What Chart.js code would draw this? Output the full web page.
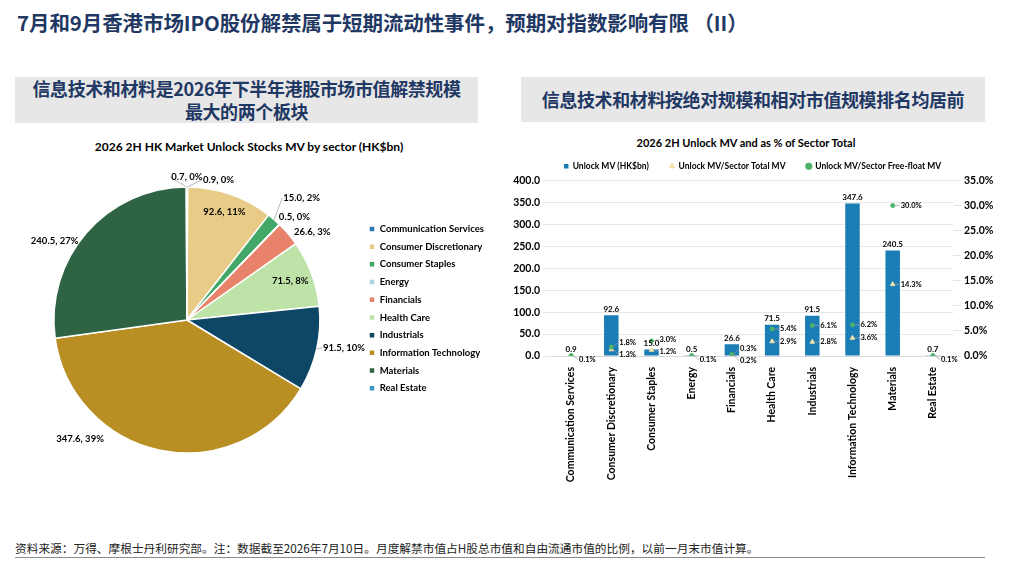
<!DOCTYPE html>
<html>
<head>
<meta charset="utf-8">
<script src="https://cdn.jsdelivr.net/npm/chart.js@4.4.1/dist/chart.umd.min.js"></script>
<style>
    html, body { margin: 0; padding: 0; background: #fff; }
    body { width: 1024px; height: 563px; position: relative; overflow: hidden; font-family: "Noto Sans CJK SC", sans-serif; }
    .title { position: absolute; left: 17px; top: 7px; font-size: 20.5px; font-weight: bold; color: #1F3864; white-space: nowrap; letter-spacing: -0.1px; }
    .hdr { position: absolute; background: #E7E7E7; color: #1F3864; font-weight: bold; font-size: 18px; line-height: 23px;
           display: flex; align-items: center; justify-content: center; text-align: center; letter-spacing: -0.4px; }
    .ctitle { position: absolute; font-family: Lato, sans-serif; font-weight: bold; font-size: 12px; color: #000; text-align: center; white-space: nowrap; }
    .foot { position: absolute; left: 15px; top: 539px; font-size: 11.7px; color: #222; white-space: nowrap; }
    .rule { position: absolute; left: 15px; top: 557px; width: 970px; height: 1px; background: #8c8c8c; }
    .box { position: absolute; }
</style>
</head>
<body>
<div class="title">7月和9月香港市场IPO股份解禁属于短期流动性事件，预期对指数影响有限 （II）</div>

<div class="hdr" style="left:15px;top:77px;width:463px;height:46px;">信息技术和材料是2026年下半年港股市场市值解禁规模<br>最大的两个板块</div>
<div class="hdr" style="left:521px;top:77px;width:464px;height:45px;">信息技术和材料按绝对规模和相对市值规模排名均居前</div>

<div class="ctitle" style="left:49px;top:139px;width:400px;">2026 2H HK Market Unlock Stocks MV by sector (HK$bn)</div>
<div class="ctitle" style="left:566px;top:136px;width:360px;font-size:11px;">2026 2H Unlock MV and as % of Sector Total</div>

<div class="box" style="left:13px;top:160px;width:481px;height:310px;"><canvas id="pie"></canvas></div>
<div class="box" style="left:505px;top:141px;width:495px;height:347px;"><canvas id="bars"></canvas></div>

<div class="foot">资料来源：万得、摩根士丹利研究部。注：数据截至2026年7月10日。月度解禁市值占H股总市值和自由流通市值的比例，以前一月末市值计算。</div>
<div class="rule"></div>

<script>
(function(){
    'use strict';

    // data
    var sectors = ['Communication Services', 'Consumer Discretionary', 'Consumer Staples', 'Energy', 'Financials',
                   'Health Care', 'Industrials', 'Information Technology', 'Materials', 'Real Estate'];
    var unlockMV = [0.9, 92.6, 15.0, 0.5, 26.6, 71.5, 91.5, 347.6, 240.5, 0.7];
    var pieShare = [0, 11, 2, 0, 3, 8, 10, 39, 27, 0];
    var pctSectorTotal = [0.0, 1.3, 1.2, 0.0, 0.2, 2.9, 2.8, 3.6, 14.3, 0.0];
    var pctFreeFloat = [0.1, 1.8, 3.0, 0.1, 0.3, 5.4, 6.1, 6.2, 30.0, 0.1];
    var mvTicks = [0, 50, 100, 150, 200, 250, 300, 350, 400];
    var pctTicks = [0, 5, 10, 15, 20, 25, 30, 35];

    var sectorColors = ['#2A7AB8', '#E8CB86', '#43A867', '#A8D5DF', '#E8826B',
                        '#BEE3A8', '#0E4766', '#B98E23', '#2E6444', '#3B9CC2'];
    // where each pie label sits: a = degrees clockwise from 12 o'clock (null = slice middle), d = x radius
    var pieLabelSpots = [
        {a: 12.7, d: 1.08, line: true},
        {a: null, d: 0.86, line: false},
        {a: 43.2, d: 1.26, line: true},
        {a: 46.2, d: 1.12, line: false},
        {a: 55,   d: 1.15, line: false},
        {a: null, d: 0.83, line: false},
        {a: 100,  d: 1.2,  line: true},
        {a: 222,  d: 1.2,  line: false},
        {a: 301,  d: 1.16, line: false},
        {a: 0,    d: 1.075, line: true}
    ];

    Chart.defaults.font.family = 'Lato, "Noto Sans", sans-serif';
    Chart.defaults.font.weight = 'bold';
    Chart.defaults.color = '#000';
    Chart.defaults.animation = false;

    var pieLabels = {
        id: 'pieLabels',
        afterDatasetsDraw: function(chart){
            var ctx = chart.ctx;
            var arcs = chart.getDatasetMeta(0).data;
            ctx.save();
            ctx.font = 'bold 9.5px Lato';
            ctx.fillStyle = '#000';
            ctx.strokeStyle = '#9a9a9a';
            ctx.lineWidth = 0.7;
            ctx.textAlign = 'center';
            ctx.textBaseline = 'middle';
            arcs.forEach(function(arc, i){
                var spot = pieLabelSpots[i];
                var r = arc.outerRadius;
                var mid = (arc.startAngle + arc.endAngle) / 2;
                var ang = spot.a === null ? mid : (spot.a - 90) * Math.PI / 180;
                var lx = arc.x + Math.cos(ang) * r * spot.d;
                var ly = arc.y + Math.sin(ang) * r * spot.d;
                var text = unlockMV[i].toFixed(1) + ', ' + pieShare[i] + '%';
                var w = ctx.measureText(text).width;
                if (spot.line) {
                    var ex = arc.x + Math.cos(mid) * r;
                    var ey = arc.y + Math.sin(mid) * r;
                    var tx = lx >= ex ? lx - w / 2 - 1 : lx + w / 2 + 1;
                    ctx.beginPath();
                    ctx.moveTo(ex, ey);
                    ctx.lineTo(tx, ly);
                    ctx.stroke();
                }
                ctx.fillText(text, lx, ly);
            });
            ctx.restore();
        }
    };

    new Chart(document.getElementById('pie'), {
        type: 'pie',
        data: {
            labels: sectors,
            datasets: [{
                data: unlockMV,
                backgroundColor: sectorColors,
                borderColor: '#fff',
                borderWidth: 1.5
            }]
        },
        options: {
            responsive: true,
            maintainAspectRatio: false,
            radius: 133,
            layout: { padding: { top: 56, bottom: 46 } },
            plugins: {
                legend: {
                    position: 'right',
                    align: 'start',
                    labels: { boxWidth: 6, boxHeight: 6, padding: 8.2, font: { size: 9.5, weight: 'bold' } }
                },
                tooltip: { enabled: false }
            }
        },
        plugins: [pieLabels]
    });

    var barLabels = {
        id: 'barLabels',
        afterDatasetsDraw: function(chart){
            var ctx = chart.ctx;
            var bars = chart.getDatasetMeta(0).data;
            var tri = chart.getDatasetMeta(1).data;
            var dots = chart.getDatasetMeta(2).data;
            ctx.save();
            ctx.fillStyle = '#000';
            ctx.strokeStyle = '#9a9a9a';
            ctx.lineWidth = 0.7;
            ctx.font = 'bold 8px Lato';
            ctx.textAlign = 'center';
            ctx.textBaseline = 'bottom';
            bars.forEach(function(bar, i){
                ctx.fillText(unlockMV[i].toFixed(1), bar.x, bar.y - 2);
            });
            ctx.font = 'bold 7.5px Lato';
            ctx.textAlign = 'left';
            ctx.textBaseline = 'middle';
            dots.forEach(function(dot, i){
                var t = tri[i];
                var yDot = dot.y, yTri = t.y;
                var hasTri = pctSectorTotal[i] > 0.05;
                if (hasTri && Math.abs(yDot - yTri) < 12) {
                    var midY = (yDot + yTri) / 2;
                    yDot = Math.min(yDot, midY - 6);
                    yTri = Math.max(yTri, midY + 6);
                }
                if (!hasTri) yDot += 4;
                ctx.beginPath();
                ctx.moveTo(dot.x + 2, dot.y);
                ctx.lineTo(dot.x + 7, yDot);
                ctx.stroke();
                ctx.fillText(pctFreeFloat[i].toFixed(1) + '%', dot.x + 8, yDot);
                if (hasTri) {
                    ctx.beginPath();
                    ctx.moveTo(t.x + 2, t.y);
                    ctx.lineTo(t.x + 7, yTri);
                    ctx.stroke();
                    ctx.fillText(pctSectorTotal[i].toFixed(1) + '%', t.x + 8, yTri);
                }
            });
            ctx.restore();
        }
    };

    new Chart(document.getElementById('bars'), {
        type: 'bar',
        data: {
            labels: sectors,
            datasets: [{
                label: 'Unlock MV (HK$bn)',
                data: unlockMV,
                backgroundColor: '#1B7DB6',
                pointStyle: 'rect',
                barPercentage: 0.36,
                categoryPercentage: 1,
                yAxisID: 'y',
                order: 3
            }, {
                type: 'line',
                label: 'Unlock MV/Sector Total MV',
                data: pctSectorTotal,
                showLine: false,
                pointStyle: 'triangle',
                pointRadius: 2.6,
                pointBackgroundColor: '#EFE2AE',
                pointBorderColor: '#EFE2AE',
                backgroundColor: '#EFE2AE',
                borderColor: '#EFE2AE',
                yAxisID: 'y2',
                order: 2
            }, {
                type: 'line',
                label: 'Unlock MV/Sector Free-float MV',
                data: pctFreeFloat,
                showLine: false,
                pointStyle: 'circle',
                pointRadius: 2,
                pointBackgroundColor: '#4DB36A',
                pointBorderColor: '#4DB36A',
                backgroundColor: '#4DB36A',
                borderColor: '#4DB36A',
                yAxisID: 'y2',
                order: 1
            }]
        },
        options: {
            responsive: true,
            maintainAspectRatio: false,
            layout: { padding: 0 },
            plugins: {
                legend: {
                    position: 'top',
                    labels: {
                        usePointStyle: true,
                        boxWidth: 4.5,
                        boxHeight: 4.5,
                        padding: 21,
                        font: { size: 8.5, weight: 'bold' },
                        sort: function(a, b){ return a.datasetIndex - b.datasetIndex; }
                    }
                },
                tooltip: { enabled: false }
            },
            scales: {
                x: {
                    grid: { display: false },
                    border: { color: '#D9D9D9' },
                    ticks: { autoSkip: false, minRotation: 90, maxRotation: 90, font: { size: 10.5, weight: 'bold' } },
                    afterFit: function(scale){ scale.height = 132; }
                },
                y: {
                    position: 'left',
                    min: 0,
                    max: 400,
                    grid: { color: '#E6E6E6' },
                    border: { display: false },
                    afterBuildTicks: function(scale){ scale.ticks = mvTicks.map(function(v){ return {value: v}; }); },
                    ticks: { font: { size: 10.5, weight: 'bold' }, callback: function(v){ return Number(v).toFixed(1); } },
                    afterFit: function(scale){ scale.width = 46; }
                },
                y2: {
                    position: 'right',
                    min: 0,
                    max: 35,
                    grid: { drawOnChartArea: false },
                    border: { display: false },
                    afterBuildTicks: function(scale){ scale.ticks = pctTicks.map(function(v){ return {value: v}; }); },
                    ticks: { font: { size: 10.5, weight: 'bold' }, callback: function(v){ return Number(v).toFixed(1) + '%'; } },
                    afterFit: function(scale){ scale.width = 47; }
                }
            }
        },
        plugins: [barLabels]
    });
}());
</script>
</body>
</html>
